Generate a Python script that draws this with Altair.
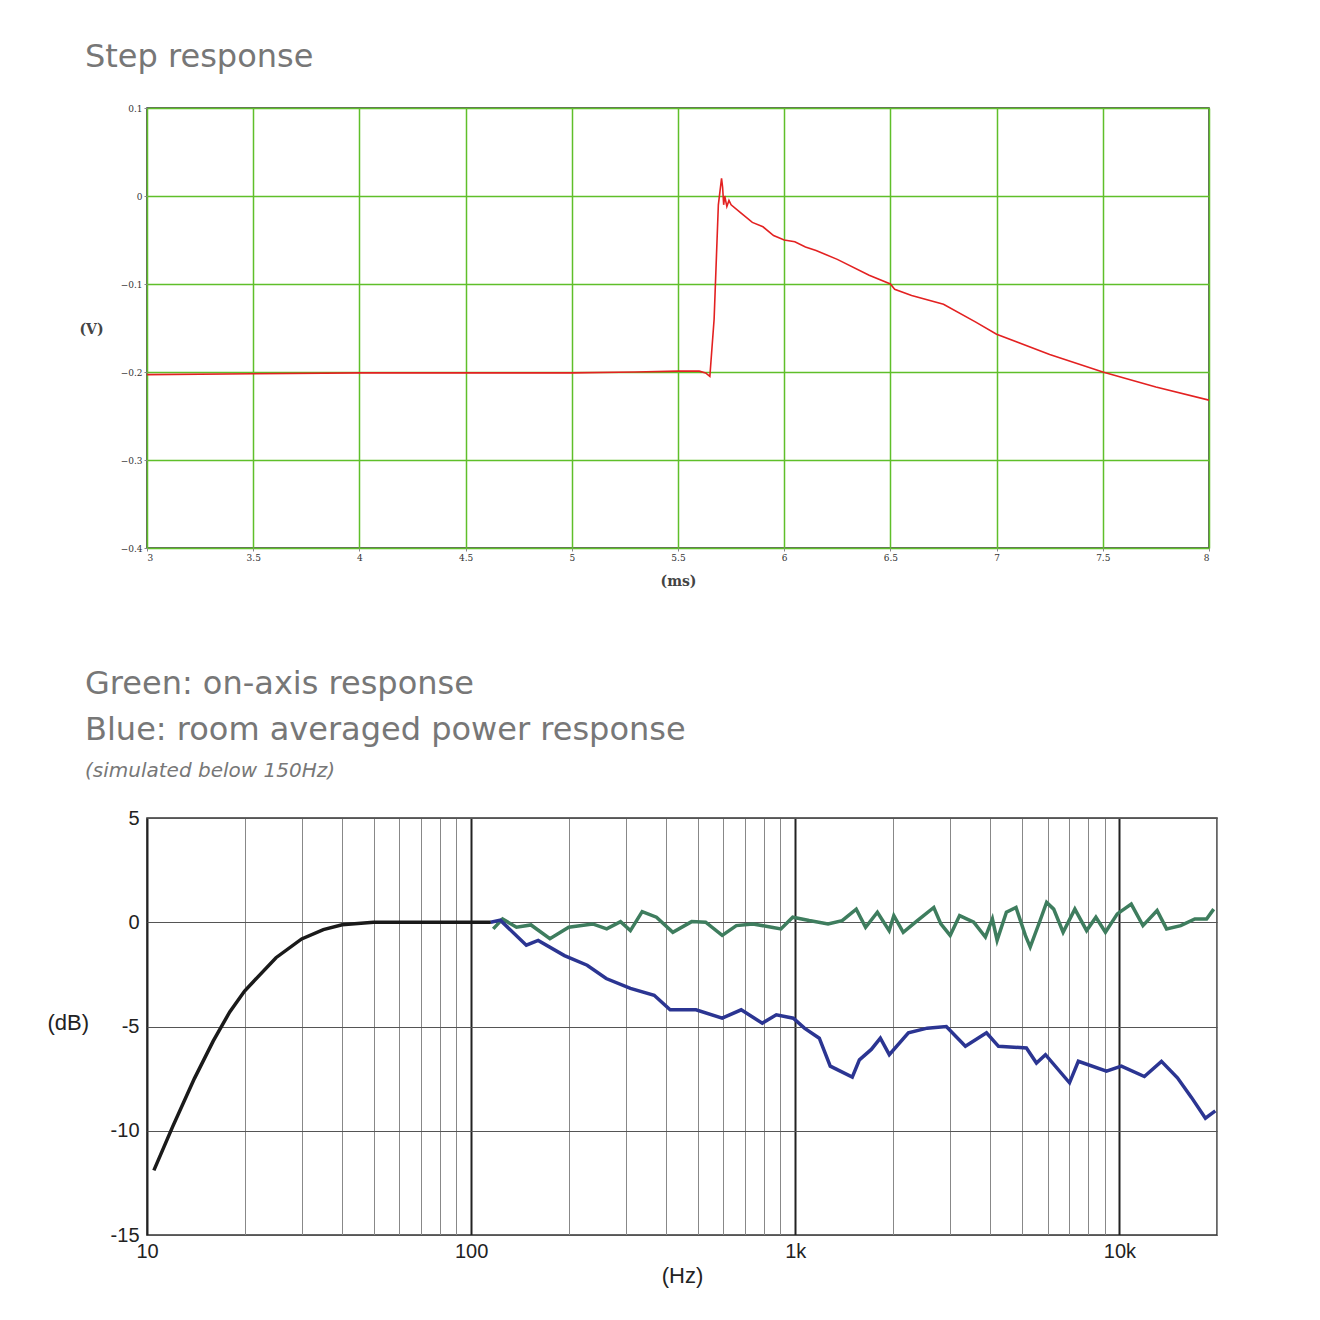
import altair as alt
import pandas as pd

# ---- Step response data ----
step_t = [3.0, 3.5, 4.0, 4.5, 5.0, 5.3, 5.5, 5.6, 5.63, 5.65, 5.67, 5.69, 5.705, 5.71, 5.715, 5.72, 5.73, 5.74,
          5.75, 5.8, 5.85, 5.9, 5.95, 6.0, 6.05, 6.1, 6.15, 6.25, 6.4, 6.5, 6.52, 6.6, 6.75, 6.9, 7.0,
          7.25, 7.5, 7.75, 8.0]
step_v = [-0.203, -0.202, -0.201, -0.201, -0.201, -0.200, -0.199, -0.199, -0.201, -0.205, -0.14, -0.01, 0.02,
          0.01, -0.01, 0.0, -0.012, -0.005, -0.01, -0.02, -0.03, -0.035, -0.045, -0.05, -0.052, -0.058,
          -0.062, -0.072, -0.09, -0.1, -0.106, -0.113, -0.123, -0.143, -0.157, -0.18, -0.2, -0.217, -0.232]

# ---- Frequency response data ----
hp_f = [10.5, 12, 14, 16, 18, 20, 25, 30, 35, 40, 50, 70, 115]
hp_db = [-11.9, -9.8, -7.5, -5.7, -4.3, -3.3, -1.7, -0.8, -0.35, -0.12, 0.0, 0.0, 0.0]

blue_f = [115, 123, 148, 161, 194, 228, 261, 310, 367, 411, 494, 595, 681, 791, 874, 986, 1067, 1186,
          1282, 1499, 1577, 1716, 1830, 1950, 2233, 2553, 2924, 3348, 3890, 4236, 5165, 5547, 5914,
          7015, 7469, 9120, 10140, 11940, 13480, 15100, 16680, 18420, 19760]
blue_db = [0.0, 0.1, -1.1, -0.87, -1.6, -2.06, -2.7, -3.17, -3.5, -4.2, -4.2, -4.6, -4.2, -4.84, -4.44,
           -4.6, -5.08, -5.56, -6.9, -7.43, -6.6, -6.1, -5.56, -6.35, -5.3, -5.08, -5.0, -5.95, -5.3,
           -5.95, -6.03, -6.75, -6.35, -7.7, -6.67, -7.14, -6.9, -7.4, -6.67, -7.46, -8.4, -9.4, -9.05]

green_f = [117, 125, 138, 153, 175, 200, 237, 262, 289, 310, 337, 373, 419, 479, 529, 595, 658, 740, 845,
           903, 982, 1104, 1262, 1395, 1542, 1648, 1792, 1948, 2014, 2153, 2380, 2675, 2812, 3005, 3213,
           3552, 3859, 4056, 4194, 4480, 4797, 5126, 5306, 5666, 5962, 6269, 6703, 7286, 7921, 8461,
           9054, 9849, 10876, 11818, 13068, 13979, 15461, 17092, 18575, 19539]
green_db = [-0.32, 0.16, -0.24, -0.13, -0.79, -0.24, -0.08, -0.32, 0.03, -0.4, 0.51, 0.24, -0.48, 0.03,
            0.0, -0.63, -0.16, -0.08, -0.24, -0.32, 0.24, 0.08, -0.08, 0.08, 0.63, -0.24, 0.48, -0.4,
            0.32, -0.48, 0.08, 0.71, -0.08, -0.63, 0.32, 0.0, -0.71, 0.16, -0.87, 0.48, 0.71, -0.63,
            -1.19, 0.0, 0.95, 0.63, -0.48, 0.63, -0.4, 0.24, -0.48, 0.4, 0.87, -0.16, 0.56, -0.32,
            -0.16, 0.16, 0.16, 0.63]

freq_grid = [m * 10 ** d for d in range(1, 5) for m in range(1, 10)]
freq_grid = [f for f in freq_grid if f <= 20000]

TITLE_FONT = "DejaVu Sans"
GREEN_GRID = "#5fbf2a"

step_df = pd.DataFrame({"t": step_t, "v": step_v})
top = alt.Chart(step_df).mark_line(color="#e32121", strokeWidth=1.6, clip=True).encode(
    x=alt.X("t:Q", scale=alt.Scale(domain=[3, 8], nice=False),
            axis=alt.Axis(values=[3, 3.5, 4, 4.5, 5, 5.5, 6, 6.5, 7, 7.5, 8], format="~g",
                          title="(ms)", titleFont="DejaVu Serif", titleFontSize=14, titleFontWeight="bold",
                          titleColor="#444", labelFont="DejaVu Serif", labelFontSize=9, labelColor="#333",
                          gridColor=GREEN_GRID, gridWidth=1.5, gridOpacity=1, domain=False, tickSize=3,
                          titlePadding=12)),
    y=alt.Y("v:Q", scale=alt.Scale(domain=[-0.4, 0.1], nice=False),
            axis=alt.Axis(values=[0.1, 0, -0.1, -0.2, -0.3, -0.4], format="~g",
                          title="(V)", titleAngle=0, titleFont="DejaVu Serif", titleFontSize=14,
                          titleFontWeight="bold", titleColor="#444", titleX=-56, titleY=228,
                          labelFont="DejaVu Serif", labelFontSize=9, labelColor="#333",
                          gridColor=GREEN_GRID, gridWidth=1.5, gridOpacity=1, domain=False, tickSize=3)),
).properties(
    width=1062, height=440,
    title=alt.TitleParams("Step response", anchor="start", frame="group", font=TITLE_FONT, fontSize=32,
                          fontWeight="normal", color="#777", dx=-62, offset=30),
)

hp_df = pd.DataFrame({"f": hp_f, "db": hp_db})
blue_df = pd.DataFrame({"f": blue_f, "db": blue_db})
green_df = pd.DataFrame({"f": green_f, "db": green_db})

decade_test = "datum.value == 10 || datum.value == 100 || datum.value == 1000 || datum.value == 10000"
xenc = alt.X("f:Q", scale=alt.Scale(type="log", domain=[10, 20000], nice=False),
             axis=alt.Axis(values=freq_grid,
                           labelExpr="datum.value == 10 ? '10' : datum.value == 100 ? '100' : datum.value == 1000 ? '1k' : datum.value == 10000 ? '10k' : ''",
                           title="(Hz)", titleFont="Liberation Sans", titleFontSize=22, titleFontWeight="normal",
                           titleColor="#222", labelFont="Liberation Sans", labelFontSize=20, labelColor="#222",
                           gridColor={"condition": {"test": decade_test, "value": "#222"}, "value": "#888"},
                           gridWidth={"condition": {"test": decade_test, "value": 2}, "value": 1},
                           domain=False, ticks=False, labelPadding=6, titlePadding=4, labelFlush=False))
yenc = alt.Y("db:Q", scale=alt.Scale(domain=[-15, 5], nice=False),
             axis=alt.Axis(values=[-15, -10, -5, 0, 5], labelExpr="'' + datum.value", title="(dB)",
                           titleAngle=0, titleAlign="left",
                           titleFont="Liberation Sans", titleFontSize=22, titleFontWeight="normal",
                           titleColor="#222", titleX=-100, titleY=216, labelFont="Liberation Sans",
                           labelFontSize=20, labelColor="#222", gridColor="#555", domain=False,
                           ticks=False, labelPadding=8))

black = alt.Chart(hp_df).mark_line(color="#1a1a1a", strokeWidth=3.5, clip=True).encode(x=xenc, y=yenc)
green = alt.Chart(green_df).mark_line(color="#3e7d5e", strokeWidth=3.5, clip=True).encode(x=xenc, y=yenc)
blue = alt.Chart(blue_df).mark_line(color="#2b3592", strokeWidth=3.5, clip=True).encode(x=xenc, y=yenc)

bottom = alt.layer(black, green, blue).properties(
    width=1070, height=417,
    title=alt.TitleParams(["Green: on-axis response", "Blue: room averaged power response"],
                          subtitle="(simulated below 150Hz)", anchor="start", frame="group", font=TITLE_FONT,
                          fontSize=32, fontWeight="normal", color="#777", lineHeight=46,
                          subtitleFont=TITLE_FONT, subtitleFontSize=20, subtitleFontStyle="italic",
                          subtitleColor="#777", subtitlePadding=14, dx=-62, offset=26),
)

chart = alt.vconcat(top, bottom, spacing=78).properties(
    padding={"left": 38, "top": 32, "right": 5, "bottom": 5}
).configure_view(stroke="#333", strokeWidth=1.5)

chart.save("out.html", embed_options={"renderer": "svg", "actions": False})
